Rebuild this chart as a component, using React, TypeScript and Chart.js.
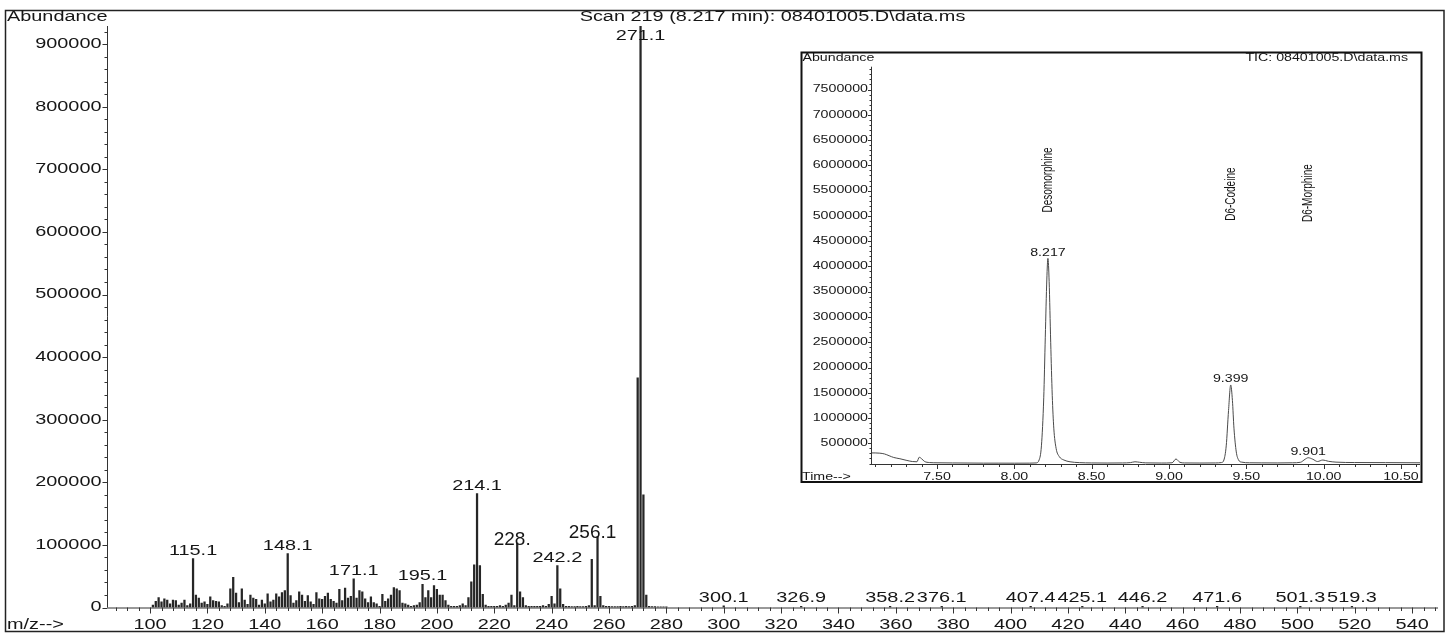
import React, { useEffect, useRef } from 'react';
import { Chart, registerables } from 'chart.js';

Chart.register(...registerables);

// ---------------- DATA ----------------
const spectrumMz = [
  101, 102, 103, 104, 105, 106, 107, 108, 109, 110, 111, 112, 113, 114, 115, 116, 117, 118, 119, 120,
  121, 122, 123, 124, 125, 126, 127, 128, 129, 130, 131, 132, 133, 134, 135, 136, 137, 138, 139, 140,
  141, 142, 143, 144, 145, 146, 147, 148, 149, 150, 151, 152, 153, 154, 155, 156, 157, 158, 159, 160,
  161, 162, 163, 164, 165, 166, 167, 168, 169, 170, 171, 172, 173, 174, 175, 176, 177, 178, 179, 180,
  181, 182, 183, 184, 185, 186, 187, 188, 189, 190, 191, 192, 193, 194, 195, 196, 197, 198, 199, 200,
  201, 202, 203, 204, 205, 206, 207, 208, 209, 210, 211, 212, 213, 214, 215, 216, 217, 218, 219, 220,
  221, 222, 223, 224, 225, 226, 227, 228, 229, 230, 231, 232, 233, 234, 235, 236, 237, 238, 239, 240,
  241, 242, 243, 244, 245, 246, 247, 248, 249, 250, 251, 252, 253, 254, 255, 256, 257, 258, 259, 260,
  261, 262, 263, 264, 265, 266, 267, 268, 269, 270, 271, 272, 273, 274, 275, 276, 277, 278, 279, 280,
  300, 327, 358, 376, 407, 425, 446, 472, 501, 519,
];
const spectrumAbundance = [
  4000, 10000, 16000, 9000, 14000, 12000, 6000, 12000, 11000, 4000, 7000, 12000, 3000, 6000, 78000, 20000, 15000, 7000, 9000, 5000,
  17000, 11000, 10000, 9000, 3000, 2000, 6000, 30000, 48000, 23000, 8000, 30000, 12000, 5000, 20000, 15000, 13000, 4000, 12000, 6000,
  22000, 9000, 12000, 22000, 17000, 24000, 27000, 86000, 19000, 7000, 11000, 25000, 20000, 10000, 19000, 9000, 5000, 24000, 14000, 13000,
  18000, 23000, 13000, 10000, 7000, 29000, 11000, 31000, 15000, 18000, 46000, 15000, 27000, 25000, 14000, 8000, 17000, 8000, 6000, 2000,
  21000, 10000, 14000, 20000, 32000, 30000, 27000, 7000, 6000, 4000, 2000, 3000, 4000, 8000, 37000, 16000, 27000, 16000, 35000, 29000,
  20000, 20000, 11000, 4000, 2000, 2000, 2000, 3000, 6000, 3000, 16000, 41000, 68000, 182000, 67000, 21000, 4000, 2000, 2000, 2000,
  2000, 3000, 2000, 4000, 7000, 20000, 3000, 103000, 25000, 16000, 3000, 2000, 2000, 2000, 2000, 2000, 3000, 2000, 5000, 18000,
  6000, 67000, 30000, 5000, 2000, 2000, 1500, 1500, 2000, 1500, 1500, 2000, 3000, 77000, 3000, 113000, 18000, 3000, 2000, 2000,
  1500, 1500, 1500, 2000, 1500, 2000, 1500, 2000, 3000, 367000, 929000, 180000, 20000, 2000, 1500, 1500, 1000, 1000, 1000, 1000,
  2500, 2000, 2000, 2000, 2000, 2000, 2000, 2000, 2000, 2000,
];
const peakLabelText = ['115.1', '148.1', '171.1', '195.1', '214.1', '228.', '242.2', '256.1', '271.1', '300.1', '326.9', '358.2', '376.1', '407.4', '425.1', '446.2', '471.6', '501.3', '519.3'];
const peakLabelMz = [115, 148, 171, 195, 214, 228, 242, 256, 271, 300, 327, 358, 376, 407, 425, 446, 472, 501, 519];
const mzTicks = [100, 120, 140, 160, 180, 200, 220, 240, 260, 280, 300, 320, 340, 360, 380, 400, 420, 440, 460, 480, 500, 520, 540];
const abundanceTicks = [0, 100000, 200000, 300000, 400000, 500000, 600000, 700000, 800000, 900000];

const chromTime = [
  7.073, 7.10, 7.13, 7.16, 7.19, 7.22, 7.26, 7.30, 7.34, 7.37, 7.385, 7.40, 7.42, 7.45, 7.50, 7.60, 7.70, 7.80, 7.90, 8.00,
  8.10, 8.14, 8.16, 8.175, 8.19, 8.20, 8.21, 8.217, 8.225, 8.235, 8.245, 8.255, 8.27, 8.29, 8.32, 8.36, 8.42, 8.50, 8.60, 8.70,
  8.75, 8.78, 8.81, 8.85, 8.95, 9.02, 9.045, 9.07, 9.10, 9.20, 9.30, 9.34, 9.355, 9.37, 9.385, 9.399, 9.41, 9.42, 9.435, 9.45,
  9.47, 9.52, 9.60, 9.70, 9.80, 9.85, 9.88, 9.90, 9.93, 9.96, 9.995, 10.03, 10.08, 10.20, 10.40, 10.623,
];
const chromAbundance = [
  310000, 310000, 305000, 290000, 255000, 220000, 195000, 165000, 140000, 135000, 225000, 195000, 140000, 120000, 115000, 112000, 110000, 108000, 108000, 107000,
  108000, 112000, 170000, 450000, 1400000, 2600000, 3750000, 4160000, 3700000, 2500000, 1450000, 800000, 400000, 240000, 170000, 135000, 118000, 112000, 110000, 112000,
  118000, 135000, 125000, 113000, 110000, 115000, 190000, 125000, 112000, 110000, 112000, 120000, 170000, 450000, 1150000, 1655000, 1350000, 800000, 330000, 170000,
  128000, 115000, 113000, 112000, 115000, 125000, 185000, 215000, 185000, 140000, 170000, 145000, 128000, 120000, 118000, 115000,
];
const chromPeakTime = [8.217, 9.399, 9.90];
const chromPeakLabel = ['8.217', '9.399', '9.901'];
const compoundName = ['Desomorphine', 'D6-Codeine', 'D6-Morphine'];
const compoundLabelLevel = [5710000, 5430000, 5450000];
const timeTicks = [7.5, 8.0, 8.5, 9.0, 9.5, 10.0, 10.5];
const timeTickLabels = ['7.50', '8.00', '8.50', '9.00', '9.50', '10.00', '10.50'];
const ticTicks = [500000, 1000000, 1500000, 2000000, 2500000, 3000000, 3500000, 4000000, 4500000, 5000000, 5500000, 6000000, 6500000, 7000000, 7500000];

// ---------------- STYLE ----------------
const FONT = '"Liberation Sans", Arial, Helvetica, sans-serif';
const SX = 1.42;
const INK = '#161616';
const BIG_LABELS = new Set(['228.', '256.1']);

function txt(ctx: CanvasRenderingContext2D, s: string, x: number, y: number, align: CanvasTextAlign, size: number, baseline: CanvasTextBaseline = 'middle', sx = SX) {
  ctx.save();
  ctx.font = `${size}px ${FONT}`;
  ctx.fillStyle = INK;
  ctx.textAlign = align;
  ctx.textBaseline = baseline;
  ctx.translate(x, y);
  ctx.scale(sx, 1);
  ctx.fillText(s, 0, 0);
  ctx.restore();
}

function line(ctx: CanvasRenderingContext2D, x1: number, y1: number, x2: number, y2: number) {
  ctx.beginPath();
  ctx.moveTo(x1, y1);
  ctx.lineTo(x2, y2);
  ctx.stroke();
}

const mainPlugin = {
  id: 'mainDecor',
  beforeDraw(chart: any) {
    const ctx = chart.ctx as CanvasRenderingContext2D;
    ctx.save();
    ctx.fillStyle = '#fff';
    ctx.fillRect(0, 0, chart.width, chart.height);
    ctx.restore();
  },
  afterDraw(chart: any) {
    const ctx = chart.ctx as CanvasRenderingContext2D;
    const { left, right, top, bottom } = chart.chartArea;
    const xs = chart.scales.x;
    const ys = chart.scales.y;
    ctx.save();
    ctx.strokeStyle = '#222';
    ctx.lineWidth = 1.5;
    ctx.strokeRect(5.5, 10.5, 1438.5, 621);
    ctx.strokeStyle = '#333';
    ctx.lineWidth = 1;
    line(ctx, left + 0.5, top, left + 0.5, bottom);
    line(ctx, left, bottom + 0.5, right, bottom + 0.5);
    for (let v = 0; v <= ys.max; v += 20000) {
      const y = Math.round(ys.getPixelForValue(v)) + 0.5;
      const major = v % 100000 === 0;
      line(ctx, left - (major ? 4.5 : 2.5), y, left, y);
    }
    abundanceTicks.forEach((v) => txt(ctx, String(v), left - 5.5, ys.getPixelForValue(v), 'right', 14));
    for (let m = 88; m <= xs.max; m += 4) {
      const x = Math.round(xs.getPixelForValue(m)) + 0.5;
      const major = m % 20 === 0;
      line(ctx, x, bottom, x, bottom + (major ? 6 : 3.5));
    }
    mzTicks.forEach((m) => txt(ctx, String(m), xs.getPixelForValue(m), 625, 'center', 14));
    txt(ctx, 'Abundance', 7, 17, 'left', 14);
    txt(ctx, 'm/z-->', 7, 625, 'left', 14);
    txt(ctx, 'Scan 219 (8.217 min): 08401005.D\\data.ms', (left + right) / 2, 17, 'center', 14);
    peakLabelText.forEach((label, i) => {
      const idx = spectrumMz.indexOf(peakLabelMz[i]);
      const x = xs.getPixelForValue(peakLabelMz[i]);
      const yTop = ys.getPixelForValue(spectrumAbundance[idx]);
      if (BIG_LABELS.has(label)) {
        txt(ctx, label, x - 5, yTop + 1.5, 'center', 19, 'alphabetic', 1);
      } else {
        txt(ctx, label, x, Math.max(yTop - 4, top + 14), 'center', 14, 'alphabetic');
      }
    });
    ctx.restore();
  },
};

const insetPlugin = {
  id: 'insetDecor',
  beforeDraw(chart: any) {
    const ctx = chart.ctx as CanvasRenderingContext2D;
    ctx.save();
    ctx.fillStyle = '#fff';
    ctx.fillRect(0, 0, chart.width, chart.height);
    ctx.restore();
  },
  afterDraw(chart: any) {
    const ctx = chart.ctx as CanvasRenderingContext2D;
    const { left, right, top, bottom } = chart.chartArea;
    const xs = chart.scales.x;
    const ys = chart.scales.y;
    ctx.save();
    ctx.strokeStyle = '#111';
    ctx.lineWidth = 2;
    ctx.strokeRect(1.5, 1.5, 620, 429.5);
    ctx.strokeStyle = '#333';
    ctx.lineWidth = 1;
    line(ctx, left + 0.5, top, left + 0.5, bottom);
    line(ctx, left, bottom + 0.5, right, bottom + 0.5);
    for (let v = 100000; v <= ys.max; v += 100000) {
      const y = Math.round(ys.getPixelForValue(v)) + 0.5;
      const major = v % 500000 === 0;
      line(ctx, left - (major ? 3 : 1.5), y, left, y);
    }
    ticTicks.forEach((v) => txt(ctx, String(v), left - 3, ys.getPixelForValue(v), 'right', 10));
    for (let k = 71; k <= 106; k++) {
      const t = k / 10;
      const x = Math.round(xs.getPixelForValue(t)) + 0.5;
      const major = k % 5 === 0;
      line(ctx, x, bottom, x, bottom + (major ? 5 : 3));
    }
    timeTicks.forEach((t, i) => txt(ctx, timeTickLabels[i], xs.getPixelForValue(t), 426, 'center', 10));
    txt(ctx, 'Abundance', 2.5, 7.5, 'left', 10);
    txt(ctx, 'TIC: 08401005.D\\data.ms', 608, 7.5, 'right', 10);
    txt(ctx, 'Time-->', 2, 426, 'left', 10);
    chromPeakTime.forEach((t, i) => {
      const idx = chromTime.indexOf(t);
      const x = xs.getPixelForValue(t);
      const y = ys.getPixelForValue(chromAbundance[idx]);
      txt(ctx, chromPeakLabel[i], x, y - 2.5, 'center', 10, 'alphabetic');
      const ny = ys.getPixelForValue(compoundLabelLevel[i]);
      ctx.save();
      ctx.font = `10px ${FONT}`;
      ctx.fillStyle = INK;
      ctx.textAlign = 'center';
      ctx.textBaseline = 'middle';
      ctx.translate(x, ny);
      ctx.scale(SX, 1);
      ctx.rotate(-Math.PI / 2);
      ctx.fillText(compoundName[i], 0, 0);
      ctx.restore();
    });
    ctx.restore();
  },
};

export default function App() {
  const mainRef = useRef<HTMLCanvasElement>(null);
  const insetRef = useRef<HTMLCanvasElement>(null);

  useEffect(() => {
    const main = new Chart(mainRef.current!, {
      type: 'bar',
      data: {
        datasets: [
          {
            data: spectrumMz.map((m, i) => ({ x: m, y: spectrumAbundance[i] })),
            backgroundColor: '#262626',
            borderWidth: 0,
            barThickness: 1.6,
          } as any,
        ],
      },
      options: {
        animation: false,
        responsive: false,
        events: [],
        layout: { padding: { left: 0, right: 10, top: 26, bottom: 0 } },
        plugins: { legend: { display: false }, tooltip: { enabled: false }, title: { display: false } },
        scales: {
          x: {
            type: 'linear',
            min: 85,
            max: 549,
            offset: false,
            grid: { display: false },
            border: { display: false },
            ticks: { display: false },
            afterFit: (s: any) => { s.height = 25.5; },
          },
          y: {
            type: 'linear',
            min: 0,
            max: 929000,
            grid: { display: false },
            border: { display: false },
            ticks: { display: false },
            afterFit: (s: any) => { s.width = 107; },
          },
        },
      } as any,
      plugins: [mainPlugin],
    });

    const inset = new Chart(insetRef.current!, {
      type: 'line',
      data: {
        datasets: [
          {
            data: chromTime.map((t, i) => ({ x: t, y: chromAbundance[i] })),
            borderColor: '#4a4a4a',
            borderWidth: 1,
            pointRadius: 0,
            fill: false,
            cubicInterpolationMode: 'monotone',
          } as any,
        ],
      },
      options: {
        animation: false,
        responsive: false,
        events: [],
        layout: { padding: { left: 0, right: 3, top: 15.7, bottom: 0 } },
        plugins: { legend: { display: false }, tooltip: { enabled: false }, title: { display: false } },
        scales: {
          x: {
            type: 'linear',
            min: 7.073,
            max: 10.623,
            grid: { display: false },
            border: { display: false },
            ticks: { display: false },
            afterFit: (s: any) => { s.height = 19; },
          },
          y: {
            type: 'linear',
            min: 91000,
            max: 7952000,
            grid: { display: false },
            border: { display: false },
            ticks: { display: false },
            afterFit: (s: any) => { s.width = 71; },
          },
        },
      } as any,
      plugins: [insetPlugin],
    });

    return () => {
      main.destroy();
      inset.destroy();
    };
  }, []);

  return (
    <div style={{ position: 'fixed', left: 0, top: 0, width: 1448, height: 633, background: '#fff' }}>
      <canvas ref={mainRef} width={1448} height={633} style={{ position: 'absolute', left: 0, top: 0 }} />
      <canvas ref={insetRef} width={623} height={432} style={{ position: 'absolute', left: 800, top: 51 }} />
    </div>
  );
}
